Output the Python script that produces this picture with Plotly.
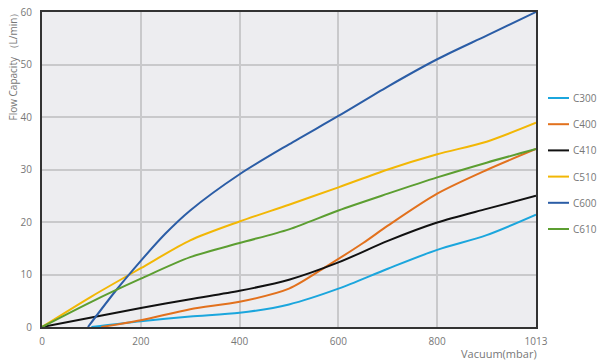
import plotly.graph_objects as go

# Vacuum positions (1013 mbar is drawn at the 1000 slot, as in the reference)
tick_vals = [0, 200, 400, 600, 800, 1000]
tick_text = ["0", "200", "400", "600", "800", "1013"]

names = ["C300", "C400", "C410", "C510", "C600", "C610"]
colors = ["#1ba6dd", "#e2711d", "#111111", "#f2b705", "#2b5da6", "#5c9e31"]

c300_x = [100, 200, 300, 400, 500, 600, 700, 800, 900, 1000]
c300_y = [0, 1.1, 2.0, 2.7, 4.3, 7.3, 11.1, 14.7, 17.5, 21.4]

c400_x = [120, 200, 300, 400, 500, 580, 650, 700, 800, 900, 1000]
c400_y = [0, 1.3, 3.4, 4.8, 7.3, 11.8, 16.0, 19.3, 25.4, 29.9, 33.9]

c410_x = [0, 100, 200, 300, 400, 500, 600, 700, 800, 900, 1000]
c410_y = [0, 1.8, 3.6, 5.3, 6.9, 9.0, 12.3, 16.4, 19.9, 22.5, 25.0]

c510_x = [0, 100, 200, 300, 400, 500, 600, 700, 800, 900, 1000]
c510_y = [0, 5.8, 11.2, 16.5, 20.1, 23.3, 26.6, 30.0, 32.9, 35.3, 38.9]

c600_x = [93, 150, 200, 250, 300, 400, 500, 600, 700, 800, 900, 1000]
c600_y = [0, 7.0, 12.6, 17.8, 22.2, 29.1, 34.8, 40.2, 45.8, 51.0, 55.5, 60.0]

c610_x = [0, 100, 200, 300, 400, 500, 600, 700, 800, 900, 1000]
c610_y = [0, 4.8, 9.2, 13.3, 16.0, 18.6, 22.2, 25.4, 28.5, 31.3, 33.9]

series = [(c300_x, c300_y), (c400_x, c400_y), (c410_x, c410_y),
          (c510_x, c510_y), (c600_x, c600_y), (c610_x, c610_y)]

W, H = 600, 363
ML, MR, MT, MB = 42, 64, 12, 36
PW, PH = W - ML - MR, H - MT - MB

fig = go.Figure()
grey = "#777777"
shapes = []
annotations = []
for i, (name, color, (xs, ys)) in enumerate(zip(names, colors, series)):
    fig.add_trace(go.Scatter(
        x=xs, y=ys, name=name, mode="lines",
        line=dict(color=color, width=2, shape="spline", smoothing=0.8),
        showlegend=False,
    ))
    # legend entry (drawn manually so it sits in the right margin like the reference)
    ly = (MT + PH - (98 + i * 26.2)) / PH
    x0 = (548 - ML) / PW
    x1 = (569 - ML) / PW
    shapes.append(dict(type="line", xref="paper", yref="paper",
                       x0=x0, x1=x1, y0=ly, y1=ly,
                       line=dict(color=color, width=2)))
    annotations.append(dict(text=name, xref="paper", yref="paper",
                            x=(571 - ML) / PW, y=ly, xanchor="left", yanchor="middle",
                            showarrow=False, font=dict(size=10, color=grey)))

annotations += [
    dict(text="Flow Capacity （L/min）", textangle=-90, xref="paper", yref="paper",
         x=(12 - ML) / PW, y=(MT + PH - 6) / PH, xanchor="center", yanchor="top",
         showarrow=False, font=dict(size=10, color=grey)),
    dict(text="Vacuum(mbar)", xref="paper", yref="paper",
         x=(539 - ML) / PW, y=(MT + PH - 353) / PH, xanchor="right", yanchor="middle",
         showarrow=False, font=dict(size=11, color=grey)),
]

fig.update_layout(
    width=W, height=H,
    margin=dict(l=ML, r=MR, t=MT, b=MB, autoexpand=False),
    paper_bgcolor="white",
    plot_bgcolor="#ededf0",
    font=dict(family="Open Sans, Noto Sans, sans-serif", size=10, color=grey),
    showlegend=False,
    xaxis=dict(
        range=[0, 1000], tickvals=tick_vals, ticktext=tick_text,
        showgrid=True, gridcolor="#c9c9cb", gridwidth=2,
        showline=True, linecolor="#333333", linewidth=2, mirror=True,
        zeroline=False, ticks="", ticklabelstandoff=4, automargin=False,
    ),
    yaxis=dict(
        range=[0, 60], tickvals=[0, 10, 20, 30, 40, 50, 60],
        showgrid=True, gridcolor="#c9c9cb", gridwidth=2,
        showline=True, linecolor="#333333", linewidth=2, mirror=True,
        zeroline=False, ticks="", ticklabelstandoff=6, automargin=False,
    ),
    shapes=shapes,
    annotations=annotations,
)

fig.write_html(
    "out.html",
    config={"displayModeBar": False},
    post_script="document.body.style.margin='0';document.body.style.overflow='hidden';",
)
